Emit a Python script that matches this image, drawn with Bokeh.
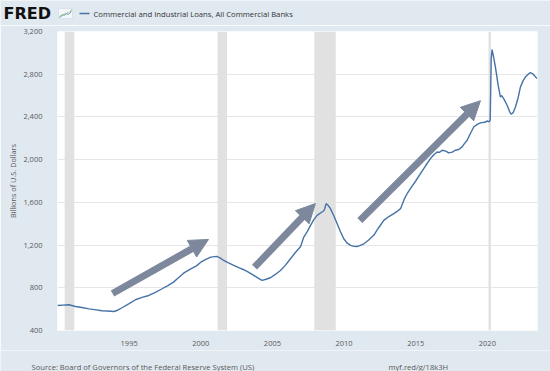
from bokeh.plotting import figure
from bokeh.layouts import column
from bokeh.models import FixedTicker, NumeralTickFormatter, Arrow, NormalHead
from bokeh.core.properties import value
from bokeh.embed import file_html
from bokeh.resources import INLINE

# ---- data ----
years = [1990.0, 1990.4, 1990.8, 1991.26, 1991.7, 1992.2, 1992.6, 1993.1, 1993.5, 1993.93,
         1994.2, 1994.5, 1995.0, 1995.44, 1995.9, 1996.37, 1996.8, 1997.3, 1997.7, 1998.1,
         1998.4, 1998.8, 1999.3, 1999.7, 2000.0, 2000.35, 2000.7, 2001.1, 2001.35, 2001.6,
         2001.9, 2002.3, 2002.65, 2003.0, 2003.35, 2003.7, 2004.0, 2004.28, 2004.55, 2004.86,
         2005.2, 2005.56, 2005.9, 2006.26, 2006.6, 2006.96, 2007.19, 2007.45, 2007.66, 2007.9,
         2008.12, 2008.4, 2008.58, 2008.65, 2008.75, 2008.9, 2009.05, 2009.3, 2009.52, 2009.75,
         2009.98, 2010.2, 2010.45, 2010.7, 2010.9, 2011.1, 2011.38, 2011.7, 2012.07, 2012.4,
         2012.77, 2013.1, 2013.47, 2013.7, 2013.94, 2014.2, 2014.4, 2014.63, 2015.0, 2015.33,
         2015.7, 2016.03, 2016.3, 2016.5, 2016.65, 2016.85, 2017.1, 2017.3, 2017.55, 2017.77,
         2018.0, 2018.24, 2018.4, 2018.59, 2018.8, 2019.05, 2019.3, 2019.52, 2019.8, 2020.03,
         2020.12, 2020.2, 2020.27, 2020.33, 2020.45, 2020.56, 2020.75, 2020.91, 2021.0, 2021.14,
         2021.38, 2021.55, 2021.66, 2021.8, 2021.96, 2022.15, 2022.31, 2022.5, 2022.66, 2022.85,
         2023.0, 2023.2, 2023.47]
loans = [634, 638, 641, 625, 615, 603, 596, 585, 583, 578,
         590, 613, 652, 688, 710, 728, 755, 791, 820, 853,
         890, 937, 978, 1005, 1040, 1065, 1087, 1094, 1080, 1056,
         1035, 1009, 988, 969, 945, 916, 890, 869, 880, 894,
         925, 962, 1010, 1072, 1130, 1185, 1275, 1330, 1384, 1440,
         1478, 1505, 1519, 1540, 1588, 1570, 1541, 1470, 1400, 1325,
         1259, 1220, 1197, 1188, 1187, 1195, 1212, 1245, 1291, 1360,
         1431, 1465, 1494, 1515, 1541, 1630, 1681, 1728, 1800, 1869,
         1945, 2010, 2050, 2072, 2068, 2088, 2080, 2063, 2070, 2088,
         2095, 2119, 2150, 2181, 2240, 2306, 2330, 2344, 2350, 2362,
         2353, 2370, 2950, 3031, 2950, 2869, 2700, 2587, 2600, 2572,
         2509, 2450, 2425, 2440, 2493, 2580, 2681, 2740, 2775, 2800,
         2816, 2800, 2759]

rec_start = [1990.5, 2001.17, 2007.92, 2020.08]
rec_end = [1991.17, 2001.83, 2009.42, 2020.25]

y_ticks = [400, 800, 1200, 1600, 2000, 2400, 2800, 3200]
x_ticks = [1995, 2000, 2005, 2010, 2015, 2020]

# arrows drawn on the chart: (x0, y0) -> (x1, y1)
arrow_x0 = [1993.84, 2003.75, 2011.1]
arrow_y0 = [747, 993, 1431]
arrow_x1 = [2000.54, 2008.0, 2019.52]
arrow_y1 = [1253, 1589, 2552]

logo_text = "FRED"
title_text = "Commercial and Industrial Loans, All Commercial Banks"
y_label = "Billions of U.S. Dollars"
source_text = "Source: Board of Governors of the Federal Reserve System (US)"
url_text = "myf.red/g/18k3H"

# ---- styling ----
BG = "#e1e9f0"
LINE = "#4572a7"
GRID = "#e6e6e6"
TXT = "#595959"
ARROW = "#7d889d"
FONT = "Open Sans"
W = 550


def strip(fig):
    fig.xgrid.visible = False
    fig.ygrid.visible = False
    fig.background_fill_color = BG
    fig.border_fill_color = BG
    fig.outline_line_color = None
    fig.frame_align = False


# ---- header (logo + legend) ----
HH = 25
head = figure(width=W, height=HH, output_backend="svg", toolbar_location=None,
              x_range=(0, W), y_range=(0, HH), x_axis_location=None, y_axis_location=None,
              min_border=0)
strip(head)
head.text(x=[3], y=[12], text=[logo_text], text_font=value("DejaVu Sans"),
          text_font_style="bold", text_font_size="16px", text_color="#111111",
          text_baseline="middle")
# small chart icon next to the logo
head.quad(left=[58], right=[72], bottom=[7], top=[17], fill_color="#f4f7f9",
          line_color="#c9d6e0", line_width=0.5)
head.line(x=[59, 62, 64, 67, 69, 71], y=[9, 11, 10, 13, 12, 16], line_color="#8fbf6a",
          line_width=1)
head.line(x=[59, 62, 65, 68, 71], y=[8, 10, 12, 11, 14], line_color="#7aa6d2",
          line_width=1)
# legend
head.line(x=[79, 89], y=[12, 12], line_color=LINE, line_width=1.5)
head.text(x=[93], y=[12], text=[title_text], text_font=value(FONT),
          text_font_size="7.7px", text_color="#333333", text_baseline="middle")

# ---- main chart ----
p = figure(width=W, height=325, output_backend="svg", toolbar_location=None,
           x_range=(1990.0, 2023.5), y_range=(400, 3200),
           min_border_left=57, min_border_right=13, min_border_top=6, min_border_bottom=20)
p.background_fill_color = "white"
p.border_fill_color = BG
p.outline_line_color = None
p.frame_align = False

p.quad(left=rec_start, right=rec_end, bottom=400, top=3200,
       fill_color="#e1e1e1", line_color=None)
p.line(years, loans, line_color=LINE, line_width=1.4)

p.yaxis.ticker = FixedTicker(ticks=y_ticks)
p.yaxis.formatter = NumeralTickFormatter(format="0,0")
p.xaxis.ticker = FixedTicker(ticks=x_ticks)
for ax in (p.xaxis, p.yaxis):
    ax.axis_line_color = None
    ax.major_tick_line_color = None
    ax.minor_tick_line_color = None
    ax.major_label_text_font = FONT
    ax.major_label_text_font_size = "7.5px"
    ax.major_label_text_color = TXT
p.yaxis.major_label_standoff = 9
p.xaxis.major_label_standoff = 4
p.yaxis.axis_label = y_label
p.yaxis.axis_label_text_font = FONT
p.yaxis.axis_label_text_font_size = "7.3px"
p.yaxis.axis_label_text_font_style = "normal"
p.yaxis.axis_label_text_color = TXT
p.yaxis.axis_label_standoff = 2

p.xgrid.grid_line_color = None
p.ygrid.grid_line_color = GRID

for x0, y0, x1, y1 in zip(arrow_x0, arrow_y0, arrow_x1, arrow_y1):
    p.add_layout(Arrow(x_start=x0, y_start=y0, x_end=x1, y_end=y1,
                       line_color=ARROW, line_width=7,
                       end=NormalHead(size=19, fill_color=ARROW, line_color=ARROW,
                                      line_width=1)))

# ---- footer ----
FH = 21
foot = figure(width=W, height=FH, output_backend="svg", toolbar_location=None,
              x_range=(0, W), y_range=(0, FH), x_axis_location=None, y_axis_location=None,
              min_border=0)
strip(foot)
foot.text(x=[31, 388], y=[5, 5], text=[source_text, url_text], text_font=value(FONT),
          text_font_size="7.6px", text_color=TXT, text_baseline="middle")

layout = column(head, p, foot, spacing=0)
open("out.html", "w").write(file_html(layout, INLINE))
